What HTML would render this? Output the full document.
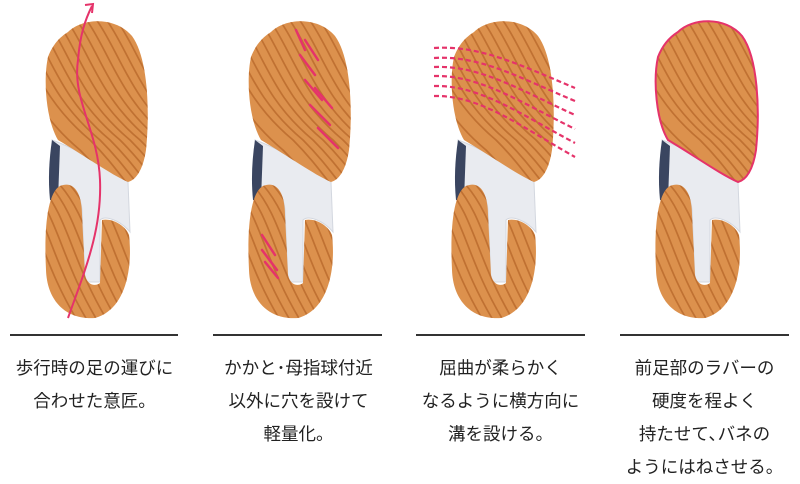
<!DOCTYPE html>
<html><head><meta charset="utf-8"><style>
html,body{margin:0;padding:0;background:#fff;width:800px;height:478px;overflow:hidden}
.cap{position:absolute;top:352px;width:205px;text-align:center;font-family:"Liberation Sans","Noto Sans CJK JP",sans-serif;font-size:17.5px;line-height:33px;color:#222}
.ln{position:absolute;top:334px;height:2px;background:#333}
</style></head><body>
<svg width="800" height="478" style="position:absolute;left:0;top:0">
<defs>
<clipPath id="ff"><path d="M68,32 C82,18 115,16 132,36 C148,58 150,110 146,150 C143,170 136,180 128,182 C110,174 85,156 58,140 C46,120 43,80 48,57 C53,44 60,37 68,32 Z"/></clipPath>
<clipPath id="hl"><path d="M60,186 C75,180 82,195 82,215 L85,275 C87,285 95,287 100,283 L102,220 C112,218 125,225 129,235 C133,270 125,310 95,318 C65,320 47,300 46,270 C44,230 47,193 60,186 Z"/></clipPath>
<g id="grooves" fill="none" stroke="#b9692c" stroke-width="1.7" opacity="0.8">
<path d="M0,0 C40,40 40,90 100,140 C120,160 130,175 150,200"/>
<path d="M10,0 C50,40 50,90 110,140 C130,160 140,175 160,200"/>
<path d="M20,0 C60,40 60,90 120,140 C140,160 150,175 170,200"/>
<path d="M30,0 C70,40 70,90 130,140 C150,160 160,175 180,200"/>
<path d="M40,0 C80,40 80,90 140,140 C160,160 170,175 190,200"/>
<path d="M50,0 C90,40 90,90 150,140 C170,160 180,175 200,200"/>
<path d="M60,0 C100,40 100,90 160,140"/>
<path d="M70,0 C110,40 110,90 170,140"/>
<path d="M80,0 C120,40 120,90 180,140"/>
<path d="M90,0 C130,40 130,90 190,140"/>
<path d="M100,0 C140,40 140,90 200,140"/>
<path d="M-10,0 C30,40 30,90 90,140 C110,160 120,175 140,200"/>
<path d="M-20,10 C20,50 20,100 80,150 C100,170 110,185 130,210"/>
<path d="M-30,20 C10,60 10,110 70,160"/>
</g>
<g id="hg" fill="none" stroke="#b9692c" stroke-width="1.7" opacity="0.8">
<path d="M10,185 C40,220 40,260 80,325"/><path d="M20,185 C50,220 50,260 90,325"/><path d="M30,185 C60,220 60,260 100,325"/><path d="M40,185 C70,220 70,260 110,325"/><path d="M50,185 C80,220 80,260 120,325"/><path d="M60,185 C90,220 90,260 130,325"/><path d="M70,185 C100,220 100,260 140,325"/><path d="M80,185 C110,220 110,260 150,325"/><path d="M90,185 C120,220 120,260 160,325"/><path d="M100,185 C130,220 130,260 170,325"/>
</g>
<g id="sole">
<path d="M52,140 C80,150 110,170 128,182 L130,232 C120,220 105,215 100,220 L100,282 L85,282 L82,210 C80,190 70,183 58,190 Z" fill="#e9ebf0" stroke="#d3d7df"/>
<path d="M52,140 L60,146 L58,200 L50,200 C48,180 49,160 52,140 Z" fill="#3a4560"/>
<path d="M68,32 C82,18 115,16 132,36 C148,58 150,110 146,150 C143,170 136,180 128,182 C110,174 85,156 58,140 C46,120 43,80 48,57 C53,44 60,37 68,32 Z" fill="#dc914d"/>
<use href="#grooves" clip-path="url(#ff)"/>
<path d="M60,186 C75,180 82,195 82,215 L85,275 C87,285 95,287 100,283 L102,220 C112,218 125,225 129,235 C133,270 125,310 95,318 C65,320 47,300 46,270 C44,230 47,193 60,186 Z" fill="#dc914d"/>
<use href="#hg" clip-path="url(#hl)"/>
</g>
</defs>
<use href="#sole"/>
<use href="#sole" x="203"/>
<use href="#sole" x="406"/>
<use href="#sole" x="610"/>
<g fill="none" stroke="#e5336a" stroke-width="2">
<path d="M68,318 C85,270 102,230 100,180 C98,130 72,100 78,60 C80,35 85,20 92,6"/>
<path d="M85,5 L93,4 L92,13"/>
</g>
<g stroke="#e5336a" stroke-width="2.5" stroke-linecap="round">
<line x1="296" y1="30" x2="305" y2="50"/><line x1="300" y1="55" x2="315" y2="75"/><line x1="305" y1="80" x2="322" y2="100"/><line x1="310" y1="105" x2="330" y2="125"/><line x1="318" y1="128" x2="338" y2="148"/><line x1="305" y1="40" x2="318" y2="60"/><line x1="315" y1="88" x2="332" y2="108"/>
<line x1="262" y1="235" x2="275" y2="255"/><line x1="262" y1="250" x2="277" y2="270"/><line x1="265" y1="262" x2="278" y2="278"/>
</g>
<g fill="none" stroke="#e5336a" stroke-width="2.2" stroke-dasharray="5,3">
<path d="M434,48 C480,45 520,65 575,88"/>
<path d="M434,58 C480,55 520,78 575,101"/>
<path d="M434,67 C480,65 520,90 575,115"/>
<path d="M434,76 C480,75 520,102 575,129"/>
<path d="M434,86 C480,85 520,114 575,143"/>
<path d="M434,96 C480,95 520,126 575,157"/>
</g>
<path transform="translate(610,0)" d="M68,32 C82,18 115,16 132,36 C148,58 150,110 146,150 C143,170 136,180 128,182 C110,174 85,156 58,140 C46,120 43,80 48,57 C53,44 60,37 68,32 Z" fill="none" stroke="#e5336a" stroke-width="2"/>
</svg>
<div class="ln" style="left:10px;width:168px"></div>
<div class="ln" style="left:213px;width:169px"></div>
<div class="ln" style="left:416px;width:169px"></div>
<div class="ln" style="left:620px;width:169px"></div>
<div class="cap" style="left:-8px">歩行時の足の運びに<br>合わせた意匠。</div>
<div class="cap" style="left:196px">かかと･母指球付近<br>以外に穴を設けて<br>軽量化。</div>
<div class="cap" style="left:398px">屈曲が柔らかく<br>なるように横方向に<br>溝を設ける。</div>
<div class="cap" style="left:602px">前足部のラバーの<br>硬度を程よく<br>持たせて､バネの<br>ようにはねさせる。</div>
</body></html>
